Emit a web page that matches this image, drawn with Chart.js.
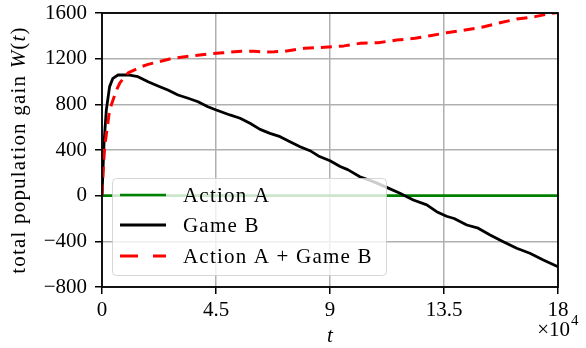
<!DOCTYPE html>
<html>
<head>
<meta charset="utf-8">
<script src="https://cdn.jsdelivr.net/npm/chart.js@4.4.1/dist/chart.umd.min.js"></script>
<style>
  html, body { margin: 0; padding: 0; background: #fff; }
  #wrap { width: 586px; height: 348px; }
</style>
</head>
<body>
<div id="wrap"><canvas id="c" width="586" height="348"></canvas></div>
<script>
// Time steps (x) and total population gain W(t) for each strategy
const tActionA = [0, 180000];
const actionA  = [0, 0];

const tGameB = [0, 800, 1700, 3000, 4300, 6300, 10300, 14200, 18200, 22100, 26000, 30000,
  34000, 37900, 41800, 45100, 50500, 54500, 58400, 62400, 66300, 70300, 74200, 78200,
  82100, 85400, 90000, 94000, 97000, 101800, 107100, 111700, 117600, 122900, 128200,
  132100, 136000, 139000, 144000, 148500, 153200, 158400, 163700, 168900, 174200, 180000];
const gameB = [0, 460, 750, 955, 1028, 1057, 1057, 1042, 998, 961, 925, 882,
  853, 823, 779, 750, 707, 678, 634, 581, 546, 517, 473, 429,
  394, 348, 306, 255, 228, 166, 123, 79, 21, -38, -81,
  -140, -180, -200, -257, -285, -344, -403, -461, -504, -563, -622];

const tCombined = [0, 400, 1050, 3000, 5700, 7100, 10300, 15500, 18200, 26700, 34600, 41800,
  47800, 55000, 60000, 64200, 68000, 72100, 80000, 87900, 95500, 101800, 109000, 116300,
  123500, 129500, 136000, 143300, 149900, 157100, 163700, 170900, 177500, 180000];
const combined = [0, 200, 429, 750, 925, 990, 1075, 1130, 1150, 1197, 1223, 1241,
  1252, 1265, 1265, 1258, 1260, 1265, 1291, 1300, 1312, 1334, 1340, 1363,
  1378, 1401, 1427, 1451, 1475, 1515, 1547, 1568, 1597, 1605];

const seriesLabels = ['Action A', 'Game B', 'Action A + Game B'];
const xTicks = [0, 45000, 90000, 135000, 180000];
const yTicks = [-800, -400, 0, 400, 800, 1200, 1600];

const SERIF = '"Liberation Serif", "Times New Roman", serif';
const pts = (xs, ys) => xs.map((x, i) => ({ x: x, y: ys[i] }));

Chart.defaults.color = '#000';
Chart.defaults.font.family = SERIF;

// Box around the plotting area (all four spines)
const frame = {
  id: 'frame',
  afterDatasetsDraw(chart) {
    const { ctx, chartArea: a } = chart;
    ctx.save();
    ctx.strokeStyle = '#000';
    ctx.lineWidth = 1.8;
    ctx.strokeRect(a.left, a.top, a.right - a.left, a.bottom - a.top);
    ctx.restore();
  }
};

// Draws a run of text pieces with mixed styles starting at x
function drawRuns(ctx, runs, x, y, spacing) {
  let cx = x;
  ctx.letterSpacing = spacing;
  for (const r of runs) {
    ctx.font = r.font;
    ctx.fillText(r.text, cx, y);
    cx += ctx.measureText(r.text).width;
  }
  return cx;
}
function runsWidth(ctx, runs, spacing) {
  let w = 0;
  ctx.letterSpacing = spacing;
  for (const r of runs) { ctx.font = r.font; w += ctx.measureText(r.text).width; }
  return w;
}

// Axis titles, offset multiplier and the legend box
const decorations = {
  id: 'decorations',
  afterDraw(chart) {
    const { ctx, chartArea: a, data } = chart;
    const up = '21px ' + SERIF;
    const it = 'italic 21px ' + SERIF;
    ctx.save();
    ctx.fillStyle = '#000';
    ctx.textBaseline = 'alphabetic';
    ctx.textAlign = 'left';

    // y-axis title
    const yRuns = [
      { text: 'total population gain ', font: up },
      { text: 'W', font: it },
      { text: '(', font: up },
      { text: 't', font: it },
      { text: ')', font: up }
    ];
    ctx.save();
    ctx.translate(25, (a.top + a.bottom) / 2);
    ctx.rotate(-Math.PI / 2);
    const yw = runsWidth(ctx, yRuns, '1.2px');
    drawRuns(ctx, yRuns, -yw / 2, 0, '1.2px');
    ctx.restore();

    // x-axis title
    ctx.letterSpacing = '0px';
    ctx.font = it;
    ctx.textAlign = 'center';
    ctx.fillText('t', (a.left + a.right) / 2, 342);

    // ×10^4 offset text
    ctx.textAlign = 'right';
    ctx.font = up;
    ctx.fillText('\u00d710', 570, 336);
    ctx.textAlign = 'left';
    ctx.font = '15px ' + SERIF;
    ctx.fillText('4', 571, 325);

    // legend
    const lx = 112, ly = 178, lw = 274, lh = 97, r = 4;
    ctx.beginPath();
    ctx.roundRect(lx + 0.5, ly + 0.5, lw, lh, r);
    ctx.fillStyle = 'rgba(255,255,255,0.8)';
    ctx.fill();
    ctx.strokeStyle = 'rgba(204,204,204,0.8)';
    ctx.lineWidth = 1;
    ctx.stroke();

    const rowY = [195, 225, 256];
    const dsets = data.datasets;
    for (let i = 0; i < dsets.length; i++) {
      const ds = dsets[i];
      ctx.save();
      ctx.beginPath();
      ctx.strokeStyle = ds.borderColor;
      ctx.lineWidth = ds.borderWidth;
      ctx.lineCap = 'butt';
      ctx.setLineDash(ds.borderDash && ds.borderDash.length ? [18, 15] : []);
      ctx.moveTo(120, rowY[i]);
      ctx.lineTo(166, rowY[i]);
      ctx.stroke();
      ctx.restore();
      ctx.fillStyle = '#000';
      ctx.textAlign = 'left';
      drawRuns(ctx, [{ text: ds.label, font: up }], 183, rowY[i] + 7, '1.2px');
    }
    ctx.restore();
  }
};

new Chart(document.getElementById('c'), {
  type: 'line',
  data: {
    datasets: [
      { label: seriesLabels[0], data: pts(tActionA, actionA), borderColor: '#008000',
        borderWidth: 2.6, order: 3 },
      { label: seriesLabels[1], data: pts(tGameB, gameB), borderColor: '#000000',
        borderWidth: 2.8, order: 2 },
      { label: seriesLabels[2], data: pts(tCombined, combined), borderColor: '#ff0000',
        borderWidth: 3, borderDash: [11, 7], order: 1 }
    ]
  },
  options: {
    responsive: false,
    animation: false,
    events: [],
    layout: { padding: { left: 0, top: 13, right: 28, bottom: 0 } },
    elements: {
      point: { radius: 0 },
      line: { tension: 0, fill: false, borderCapStyle: 'butt', borderJoinStyle: 'round' }
    },
    plugins: { legend: { display: false }, tooltip: { enabled: false } },
    scales: {
      x: {
        type: 'linear', min: 0, max: 180000,
        afterBuildTicks: s => { s.ticks = xTicks.map(v => ({ value: v })); },
        afterFit: s => { s.height = 61; },
        ticks: {
          font: { size: 21, family: SERIF, lineHeight: 1 }, color: '#000', padding: 6, maxRotation: 0,
          callback: v => String(v / 10000)
        },
        grid: { color: '#b0b0b0', lineWidth: 1.5, tickColor: '#000', tickLength: 7, tickWidth: 1.5 },
        border: { display: false }
      },
      y: {
        type: 'linear', min: -800, max: 1600,
        afterBuildTicks: s => { s.ticks = yTicks.map(v => ({ value: v })); },
        afterFit: s => { s.width = 102; s.paddingTop = 0; s.paddingBottom = 0; },
        ticks: {
          font: { size: 21, family: SERIF, lineHeight: 1 }, color: '#000', padding: 8,
          callback: v => (v < 0 ? '\u2212' + Math.abs(v) : String(v))
        },
        grid: { color: '#b0b0b0', lineWidth: 1.5, tickColor: '#000', tickLength: 7, tickWidth: 1.5 },
        border: { display: false }
      }
    }
  },
  plugins: [frame, decorations]
});
</script>
</body>
</html>
